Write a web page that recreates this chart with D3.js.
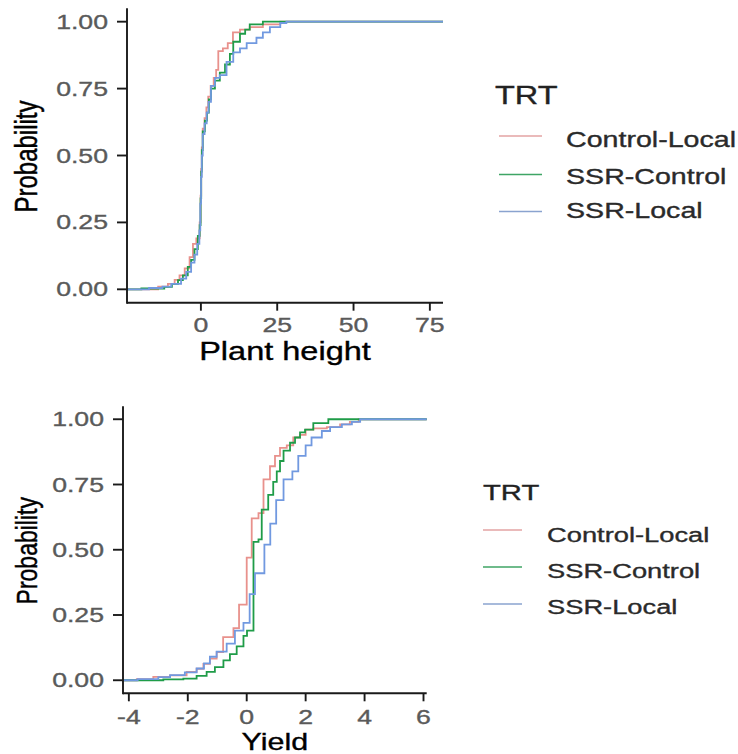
<!DOCTYPE html>
<html><head><meta charset="utf-8">
<script src="https://cdn.jsdelivr.net/npm/d3@7"></script>
<style>body{margin:0;background:#fff}svg{display:block}</style>
</head><body>
<svg id="c" width="738" height="754"></svg>
<script>
// ---- data (ECDF step points: [value, cumulative probability]) ----
const series = ["Control-Local", "SSR-Control", "SSR-Local"];
const colors = ["#e8918c", "#1f9c48", "#7199e0"];
const keyColors = ["#e3a3a3", "#3fa565", "#8aa3cf"];
const legendTitle = "TRT";
const probTicks = [0, 0.25, 0.5, 0.75, 1];
const probTickLabels = ["0.00", "0.25", "0.50", "0.75", "1.00"];

const heightTicks = [0, 25, 50, 75];
const heightRange = [-19.5, 74.6];
const heightCL = [[-14,0.01],[-10.8,0.02],[-8.6,0.035],[-7,0.052],[-5.3,0.078],[-3.7,0.12],[-2.6,0.17],[-1.5,0.19],[-0.4,0.25],[-0.1,0.35],[0.1,0.45],[0.3,0.53],[0.6,0.6],[1.2,0.64],[1.8,0.68],[2.4,0.72],[3.2,0.76],[4.2,0.79],[5.0,0.82],[5.7,0.89],[7.2,0.9],[8.8,0.92],[10.5,0.96],[12.8,0.97],[16,0.98],[20.3,0.99],[26,1.0]];
const heightSC = [[-19.5,0.003],[-12,0.009],[-9.5,0.02],[-7.5,0.034],[-5.9,0.052],[-4.3,0.084],[-3.2,0.11],[-2.1,0.15],[-1.0,0.2],[-0.4,0.24],[-0.1,0.34],[0.1,0.44],[0.3,0.52],[0.6,0.59],[1.3,0.63],[2.0,0.66],[2.6,0.71],[3.3,0.75],[4.6,0.78],[6.2,0.81],[7.9,0.84],[9.5,0.88],[10.6,0.925],[12.8,0.955],[14.5,0.97],[16.0,0.99],[20.3,1.0]];
const heightSL = [[-17,0.005],[-12.6,0.01],[-9.7,0.02],[-6.5,0.04],[-4.8,0.065],[-3.2,0.1],[-2.1,0.13],[-1.2,0.17],[-0.5,0.22],[-0.2,0.32],[0.05,0.42],[0.3,0.5],[0.6,0.58],[1.2,0.62],[1.9,0.66],[2.5,0.7],[3.3,0.76],[4.6,0.79],[6.2,0.8],[8.4,0.85],[10.6,0.885],[12.8,0.9],[15,0.92],[18.2,0.94],[20.3,0.96],[22.6,0.98],[26,0.995],[28,1.0],[74.6,1.0]];

const yieldTicks = [-4, -2, 0, 2, 4, 6];
const yieldRange = [-3.73, 5.64];
const yieldCL = [[-3.73,0.004],[-3.17,0.013],[-2.6,0.019],[-2.04,0.032],[-1.7,0.044],[-1.47,0.063],[-1.25,0.083],[-1.02,0.108],[-0.8,0.165],[-0.45,0.2],[-0.26,0.29],[0.0,0.47],[0.17,0.62],[0.4,0.64],[0.57,0.77],[0.79,0.82],[0.96,0.86],[1.13,0.89],[1.36,0.9],[1.58,0.93],[1.81,0.94],[2.0,0.96],[2.26,0.965],[2.72,0.97],[3.17,0.98],[3.5,0.99],[3.8,1.0]];
const yieldSC = [[-2.83,0.003],[-2.15,0.006],[-1.7,0.017],[-1.36,0.032],[-1.08,0.05],[-0.79,0.076],[-0.57,0.1],[-0.34,0.13],[-0.11,0.17],[0.01,0.19],[0.23,0.53],[0.4,0.54],[0.51,0.654],[0.73,0.71],[0.9,0.76],[1.02,0.8],[1.13,0.84],[1.25,0.88],[1.47,0.91],[1.64,0.93],[1.81,0.95],[1.98,0.96],[2.26,0.985],[2.77,1.0]];
const yieldSL = [[-3.7,0.004],[-3.0,0.012],[-2.6,0.02],[-2.1,0.03],[-1.7,0.045],[-1.45,0.065],[-1.25,0.09],[-1.02,0.11],[-0.68,0.14],[-0.4,0.19],[-0.11,0.22],[0.1,0.33],[0.28,0.41],[0.6,0.52],[0.8,0.6],[1.0,0.69],[1.25,0.77],[1.55,0.8],[1.75,0.86],[2.0,0.9],[2.2,0.93],[2.55,0.955],[2.83,0.97],[3.23,0.98],[3.57,0.99],[3.85,1.0],[5.64,1.0]];

// ---- drawing ----
const svg = d3.select("#c");
const FONT = "'Liberation Sans', Arial, Helvetica, sans-serif";
const SX = 1.3; // horizontal stretch of the reference picture

function stext(g, txt, x, y, size, opts = {}) {
  const fill = opts.fill || "#000";
  return g.append("text")
    .attr("transform", `translate(${x},${y}) scale(${SX},1)` + (opts.rotate ? ` rotate(${opts.rotate})` : ""))
    .attr("font-family", FONT).attr("font-size", size)
    .attr("fill", fill).attr("stroke", fill).attr("stroke-width", 0.35)
    .attr("text-anchor", opts.anchor || "start")
    .text(txt);
}

function panel(cfg) {
  const g = svg.append("g");
  const r = cfg.range[1] - cfg.range[0];
  const x = d3.scaleLinear().domain([cfg.range[0] - 0.05 * r, cfg.range[1] + 0.05 * r]).range([cfg.left, cfg.right]);
  const y = d3.scaleLinear().domain([-0.05, 1.05]).range([cfg.bottom, cfg.top]);
  const line = d3.line().x(d => x(d[0])).y(d => y(d[1])).curve(d3.curveStepAfter);
  const dom = x.domain();
  cfg.data.forEach((steps, i) => {
    const pts = [[dom[0], 0]].concat(steps, [[dom[1], 1]]);
    g.append("path").attr("d", line(pts)).attr("fill", "none")
      .attr("stroke", colors[i]).attr("stroke-width", 1.8);
  });
  const ax = g.append("g").attr("stroke", "#1a1a1a").attr("stroke-width", 1.9);
  ax.append("line").attr("x1", cfg.left).attr("x2", cfg.left).attr("y1", cfg.top).attr("y2", cfg.bottom + 1);
  ax.append("line").attr("x1", cfg.left).attr("x2", cfg.right).attr("y1", cfg.bottom).attr("y2", cfg.bottom);
  probTicks.forEach((p, i) => {
    ax.append("line").attr("x1", cfg.left - 10).attr("x2", cfg.left).attr("y1", y(p)).attr("y2", y(p));
    stext(g, probTickLabels[i], cfg.left - 19, y(p) + 7, 20.5, { anchor: "end", fill: "#5a5a5a" });
  });
  cfg.ticks.forEach(t => {
    ax.append("line").attr("x1", x(t)).attr("x2", x(t)).attr("y1", cfg.bottom).attr("y2", cfg.bottom + 8);
    stext(g, String(t), x(t), cfg.xTickBase, 20.5, { anchor: "middle", fill: "#5a5a5a" });
  });
  stext(g, cfg.xTitle, (cfg.left + cfg.right) / 2, cfg.xTitleBase, cfg.xTitleSize, { anchor: "middle" });
  stext(g, "Probability", 37, (cfg.top + cfg.bottom) / 2 + 1, cfg.yTitleSize, { anchor: "middle", rotate: -90 });
  const L = cfg.legend;
  stext(g, legendTitle, L.x, L.titleBase, L.titleSize, { fill: "#222" });
  series.forEach((s, i) => {
    g.append("line").attr("x1", L.kx1).attr("x2", L.kx2).attr("y1", L.keyY[i]).attr("y2", L.keyY[i])
      .attr("stroke", keyColors[i]).attr("stroke-width", 1.4);
    stext(g, s, L.tx, L.textBase[i], L.size, { fill: "#2a2a2a" });
  });
}

panel({
  range: heightRange, ticks: heightTicks, data: [heightCL, heightSC, heightSL],
  left: 127, right: 443, top: 8.3, bottom: 302.7,
  xTickBase: 332, xTitle: "Plant height", xTitleBase: 359.5, xTitleSize: 25, yTitleSize: 24,
  legend: { x: 495, titleBase: 104, titleSize: 25, kx1: 499, kx2: 542, keyY: [136, 174.5, 211.5],
            tx: 566, textBase: [146.7, 183.5, 218], size: 22 }
});
panel({
  range: yieldRange, ticks: yieldTicks, data: [yieldCL, yieldSC, yieldSL],
  left: 123, right: 426.7, top: 406.2, bottom: 693.3,
  xTickBase: 723.5, xTitle: "Yield", xTitleBase: 749.5, xTitleSize: 23.4, yTitleSize: 23,
  legend: { x: 483, titleBase: 500, titleSize: 22.5, kx1: 483, kx2: 522, keyY: [530, 567, 604],
            tx: 547, textBase: [541.7, 578, 614], size: 21 }
});
</script>
</body></html>
